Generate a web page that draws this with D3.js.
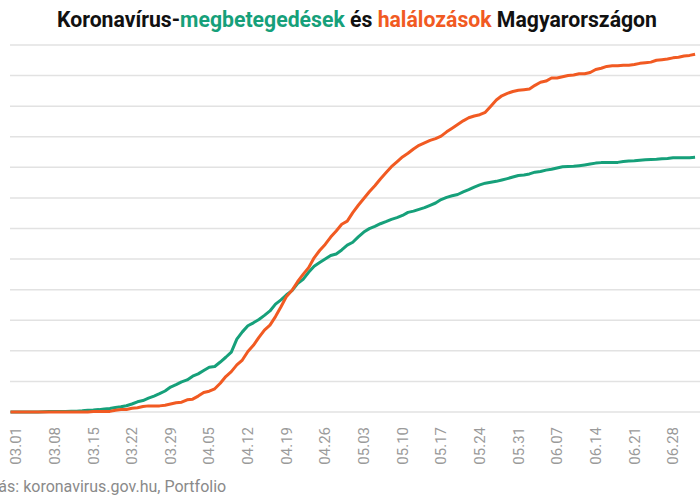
<!DOCTYPE html>
<html>
<head>
<meta charset="utf-8">
<script src="https://cdn.jsdelivr.net/npm/d3@7"></script>
<style>
  body { margin: 0; background: #fff; }
  svg { display: block; }
</style>
</head>
<body>
<svg width="700" height="500"></svg>
<script>
// első nap: 2020.02.29, utolsó: 2020.07.02 (napi kumulált adatok)
const startDate = "2020-02-29";

const cases = [
    0,
    0, 0, 0, 2, 2, 4, 7, 7, 9, 9, 13, 13, 19, 30, 32, 39, 50, 58, 73, 85,
    103, 131, 167, 187, 226, 261, 300, 343, 408, 447, 492,
    525, 585, 623, 678, 733, 744, 817, 895, 980, 1190, 1310, 1410, 1458, 1512, 1579,
    1652, 1763, 1834, 1916, 1984, 2098, 2168, 2284, 2383, 2443, 2500, 2559, 2583, 2649, 2727,
    2775, 2863, 2942, 2998, 3035, 3078, 3112, 3150, 3178, 3213, 3263, 3284, 3313, 3341, 3380,
    3417, 3473, 3509, 3535, 3556, 3598, 3636, 3678, 3713, 3741, 3756, 3771, 3793, 3816, 3841, 3867,
    3876, 3892, 3921, 3931, 3954, 3970, 3990, 4008, 4014, 4017, 4027, 4039, 4053, 4069, 4077,
    4077, 4079, 4081, 4094, 4102, 4107, 4115, 4123, 4127, 4131, 4139, 4145, 4155, 4157, 4157,
    4157, 4163
];

const deaths = [
    0,
    0, 0, 0, 0, 0, 0, 0, 0, 0, 0, 0, 0, 0, 0, 1, 1, 1, 1, 3, 4,
    4, 6, 7, 9, 10, 10, 10, 11, 13, 15, 16,
    20, 21, 26, 32, 34, 38, 47, 58, 66, 77, 85, 99, 109, 122, 134,
    142, 156, 172, 189, 199, 213, 225, 236, 252, 264, 274, 286, 296, 307, 312,
    326, 338, 349, 360, 370, 381, 391, 401, 409, 417, 423, 430, 436, 440, 444,
    447, 451, 458, 464, 470, 476, 481, 484, 486, 490, 500, 510, 517, 521, 524, 526,
    527, 528, 534, 539, 541, 546, 546, 548, 550, 551, 553, 553, 555, 560, 562,
    565, 566, 566, 567, 567, 568, 570, 571, 572, 575, 576, 577, 579, 580, 582,
    583, 585
];

const tickLabels = ["03.01", "03.08", "03.15", "03.22", "03.29", "04.05", "04.12", "04.19",
    "04.26", "05.03", "05.10", "05.17", "05.24", "05.31", "06.07", "06.14", "06.21", "06.28"];

const gridValues = [0, 500, 1000, 1500, 2000, 2500, 3000, 3500, 4000, 4500, 5000, 5500, 6000];

const green = "#16a07a";
const orange = "#f15a22";

const svg = d3.select("svg");
const parse = d3.timeParse("%Y-%m-%d");
const day0 = parse(startDate);
const dates = cases.map((d, i) => d3.timeDay.offset(day0, i));

const scX = d3.scaleTime()
    .domain([parse("2020-03-01"), parse("2020-06-28")])
    .range([16, 673]);

const scCases = d3.scaleLinear().domain([0, 6000]).range([412, 45]);
const scDeaths = d3.scaleLinear().domain([0, 600]).range([412, 45]);

// rácsvonalak
svg.append("g")
    .selectAll("line")
    .data(gridValues)
    .join("line")
    .attr("x1", 10)
    .attr("x2", 700)
    .attr("y1", d => scCases(d))
    .attr("y2", d => scCases(d))
    .attr("stroke", "#e2e2e2")
    .attr("stroke-width", 1.5);

// x tengely feliratai
svg.append("g")
    .selectAll("text")
    .data(tickLabels)
    .join("text")
    .attr("transform", d => `translate(${scX(parse("2020-" + d.replace(".", "-")))}, 427) rotate(-90)`)
    .attr("dy", "0.35em")
    .attr("text-anchor", "end")
    .attr("font-family", "Roboto, sans-serif")
    .attr("font-size", 15)
    .attr("fill", "#9a9a9a")
    .text(d => d);

const line = (sc, vals) => d3.line()
    .x((d, i) => scX(dates[i]))
    .y(d => sc(d))(vals);

svg.append("path")
    .attr("d", line(scCases, cases))
    .attr("fill", "none")
    .attr("stroke", green)
    .attr("stroke-width", 3)
    .attr("stroke-linejoin", "round");

svg.append("path")
    .attr("d", line(scDeaths, deaths))
    .attr("fill", "none")
    .attr("stroke", orange)
    .attr("stroke-width", 3)
    .attr("stroke-linejoin", "round");

// cím
const title = svg.append("text")
    .attr("x", 57)
    .attr("y", 27)
    .attr("font-family", "Roboto, sans-serif")
    .attr("font-weight", "bold")
    .attr("font-size", 22)
    .attr("textLength", 600)
    .attr("lengthAdjust", "spacingAndGlyphs")
    .attr("fill", "#111");
title.append("tspan").text("Koronavírus-");
title.append("tspan").attr("fill", green).text("megbetegedések");
title.append("tspan").text(" és ");
title.append("tspan").attr("fill", orange).text("halálozások");
title.append("tspan").text(" Magyarországon");

// forrás
svg.append("text")
    .attr("x", -30)
    .attr("y", 492)
    .attr("font-family", "Roboto, sans-serif")
    .attr("font-size", 16)
    .attr("fill", "#8a8a8a")
    .text("Forrás: koronavirus.gov.hu, Portfolio");
</script>
</body>
</html>
